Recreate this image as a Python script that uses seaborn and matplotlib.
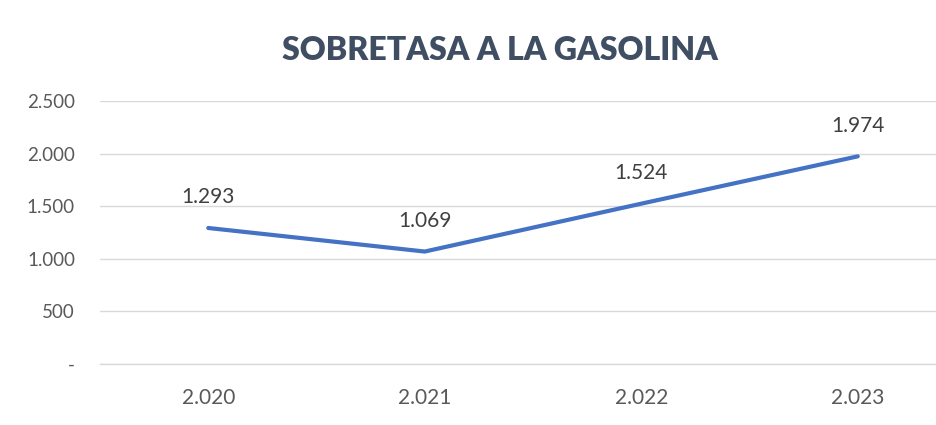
import matplotlib
matplotlib.use("Agg")
import matplotlib.pyplot as plt
import seaborn as sns
import pandas as pd
from matplotlib.ticker import FixedLocator

years = ["2.020", "2.021", "2.022", "2.023"]
values = [1293, 1069, 1524, 1974]
value_labels = ["1.293", "1.069", "1.524", "1.974"]
y_ticks = [0, 500, 1000, 1500, 2000, 2500]
y_tick_labels = ["-", "500", "1.000", "1.500", "2.000", "2.500"]
title = "SOBRETASA A LA GASOLINA"

sns.set_theme(style="white")
plt.rcParams['font.family'] = ['Lato', 'DejaVu Sans']

df = pd.DataFrame({"year": years, "value": values})

fig = plt.figure(figsize=(9.36, 4.25), dpi=100)
ax = fig.add_axes([100/936, 61/425, 866/936, 263/425])

sns.lineplot(data=df, x="year", y="value", sort=False, ax=ax,
             color="#4472C4", linewidth=3.0, solid_capstyle="round")

ax.set_xlim(-0.5, 3.5)
ax.set_ylim(0, 2500)
ax.set_yticks(y_ticks)
ax.set_yticklabels(y_tick_labels)
ax.yaxis.grid(True, color="#D9D9D9", linewidth=1.0)
ax.set_axisbelow(True)
ax.set_xlabel("")
ax.set_ylabel("")

for s in ["left", "right", "top"]:
    ax.spines[s].set_visible(False)
ax.spines["bottom"].set_color("#D9D9D9")
ax.spines["bottom"].set_linewidth(1.0)

ax.xaxis.set_minor_locator(FixedLocator([-0.5, 0.5, 1.5, 2.5, 3.5]))
ax.tick_params(axis="x", which="major", length=0, pad=17, labelsize=15, labelcolor="#595959")
ax.tick_params(axis="x", which="minor", length=5, width=1.0, color="#D9D9D9", direction="out")
ax.tick_params(axis="y", length=0, pad=18, labelsize=13.5, labelcolor="#595959")

for i, (v, lab) in enumerate(zip(values, value_labels)):
    ax.annotate(lab, (i, v), xytext=(0, 22), textcoords="offset points",
                ha="center", va="center", fontsize=15, color="#404040")

fig.text(500/936, 1 - 50/425, title, ha="center", va="center",
         fontsize=23, fontweight="heavy", color="#3F4E63")

fig.savefig("out.png", dpi=100)
